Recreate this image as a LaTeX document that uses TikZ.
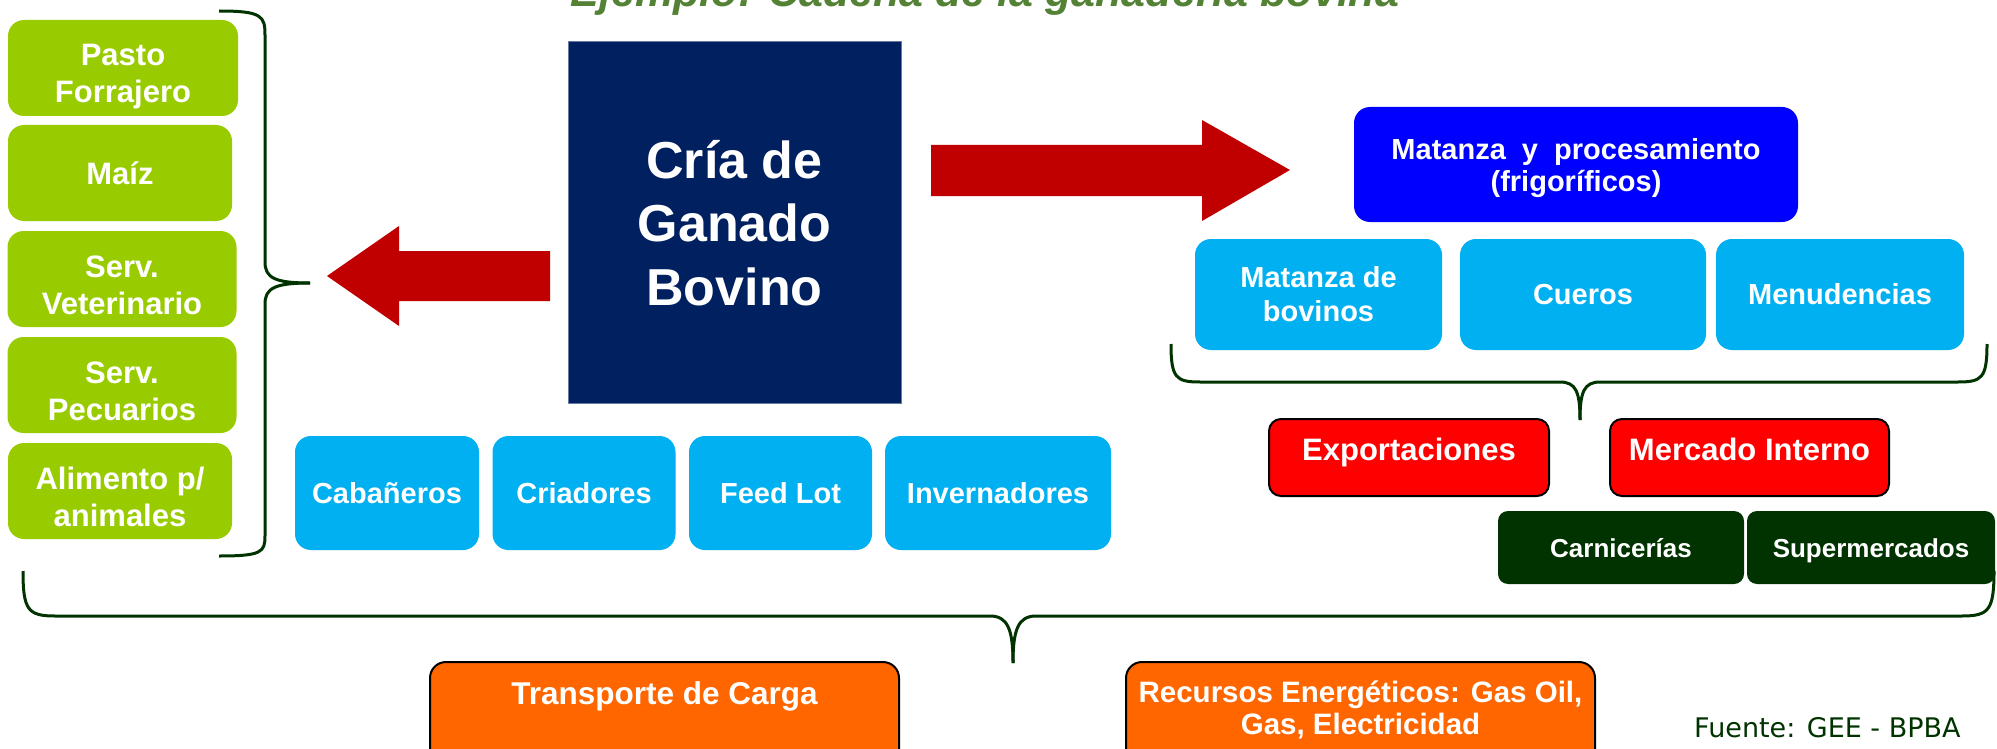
\documentclass[tikz,border=0pt]{standalone}
\usepackage{fontspec}
\setmainfont{Liberation Sans}
\newfontfamily\fuentefont{DejaVu Sans}

\definecolor{cgreen}{HTML}{99CC00}
\definecolor{cnavy}{HTML}{002060}
\definecolor{cblue}{HTML}{0000FF}
\definecolor{ccyan}{HTML}{00B0F0}
\definecolor{cred}{HTML}{FF0000}
\definecolor{cdarkred}{HTML}{C00000}
\definecolor{cdkgreen}{HTML}{003300}
\definecolor{corange}{HTML}{FF6600}
\definecolor{ctitle}{HTML}{548235}

\tikzstyle{roundbox} = [rounded corners=16, text=white, align=center, inner sep=4]
\tikzstyle{greenbox} = [roundbox, fill=cgreen, minimum height=96, font=\fontsize{31}{37}\selectfont\bfseries]
\tikzstyle{twolines} = [text height=70, text depth=0]
\tikzstyle{cyanbox} = [roundbox, fill=ccyan, minimum height=114, font=\fontsize{29}{34}\selectfont\bfseries]
\tikzstyle{navybox} = [fill=cnavy, draw=cnavy!60!white, line width=1, minimum width=333, minimum height=361, text=white, align=center, text depth=0, font=\fontsize{52}{63.5}\selectfont\bfseries]
\tikzstyle{redbox} = [roundbox, rounded corners=12, fill=cred, draw=black, line width=2, minimum height=77, text height=22, text depth=17, font=\fontsize{31}{36}\selectfont\bfseries]
\tikzstyle{shopbox} = [roundbox, rounded corners=10, fill=cdkgreen, minimum height=73, text height=19, text depth=0, font=\fontsize{26}{30}\selectfont\bfseries]
\tikzstyle{orangebox} = [roundbox, anchor=north, fill=corange, draw=black, line width=2, text height=30, text depth=100, inner ysep=10, font=\fontsize{29.5}{32}\selectfont\bfseries]
\tikzstyle{curly} = [draw=cdkgreen, line width=3]
\tikzstyle{bigarrow} = [fill=cdarkred]

\begin{document}
\begin{tikzpicture}[x=1pt,y=-1pt]
    \useasboundingbox (0,0) rectangle (1997,749);
    \clip (0,0) rectangle (1997,749);

        %title, cut at the top
        \node at (985,7) [anchor=base, text=ctitle, font=\fontsize{43}{50}\selectfont\bfseries\itshape] (title) {Ejemplo: Cadena de la ganadería bovina};

        %inputs
        \node at (123,68) [greenbox, twolines, minimum width=230] (pasto) {Pasto\\Forrajero};
        \node at (120,173) [greenbox, minimum width=224] (maiz) {Maíz};
        \node at (122,279) [greenbox, twolines, minimum width=229] (vet) {Serv.\\Veterinario};
        \node at (122,385) [greenbox, twolines, minimum width=229] (pec) {Serv.\\Pecuarios};
        \node at (120,491) [greenbox, twolines, minimum width=224] (alim) {Alimento p/\\animales};

        \draw [curly] (219,11) .. controls (262,11) and (265,16) .. (265,35) -- (265,262) .. controls (265,278) and (275,283) .. (310,283);
        \draw [curly] (310,283) .. controls (275,283) and (265,288) .. (265,304) -- (265,536) .. controls (265,552) and (262,556) .. (219,556);

        %arrows
        \fill [bigarrow] (550,251) -- (399,251) -- (399,226) -- (327,276) -- (399,326) -- (399,301) -- (550,301) -- cycle;
        \fill [bigarrow] (931,145) -- (1202,145) -- (1202,120) -- (1290,170) -- (1202,221) -- (1202,196) -- (931,196) -- cycle;

        %cattle raising
        \node at (734.5,222.5) [navybox] (cria) {Cría de\\Ganado\\Bovino};

        \node at (387,493) [cyanbox, minimum width=184] (caba) {Cabañeros};
        \node at (584,493) [cyanbox, minimum width=183] (criad) {Criadores};
        \node at (780.5,493) [cyanbox, minimum width=183] (feed) {Feed Lot};
        \node at (998,493) [cyanbox, minimum width=226] (inver) {Invernadores};

        %processing
        \node at (1576,164.5) [roundbox, fill=cblue, minimum width=444, minimum height=115, text depth=0, font=\fontsize{29}{32}\selectfont\bfseries] (frigo) {Matanza\ \ y\ \ procesamiento\\(frigoríficos)};
        \node at (1318.5,294.5) [cyanbox, minimum width=247, minimum height=111] (matanza) {Matanza de\\bovinos};
        \node at (1583,294.5) [cyanbox, minimum width=246, minimum height=111] (cueros) {Cueros};
        \node at (1840,294.5) [cyanbox, minimum width=248, minimum height=111] (menud) {Menudencias};

        \draw [curly] (1171,344) .. controls (1171,378) and (1176,382) .. (1200,382) -- (1560,382) .. controls (1576,382) and (1580,392) .. (1580,420);
        \draw [curly] (1580,420) .. controls (1580,392) and (1584,382) .. (1600,382) -- (1958,382) .. controls (1982,382) and (1987,378) .. (1987,344);

        %markets
        \node at (1409,457.5) [redbox, minimum width=280] (expo) {Exportaciones};
        \node at (1749.5,457.5) [redbox, minimum width=279] (merc) {Mercado Interno};
        \node at (1621,547.5) [shopbox, minimum width=246] (carn) {Carnicerías};
        \node at (1871,547.5) [shopbox, minimum width=248] (super) {Supermercados};

        %whole chain
        \draw [curly] (23,571) .. controls (23,610) and (28,616) .. (55,616) -- (990,616) .. controls (1008,616) and (1013,630) .. (1013,663);
        \draw [curly] (1013,663) .. controls (1013,630) and (1018,616) .. (1036,616) -- (1962,616) .. controls (1989,616) and (1994,610) .. (1994,571);

        \node at (664.5,661) [orangebox, minimum width=469, inner ysep=12, font=\fontsize{31.5}{34}\selectfont\bfseries] (trans) {Transporte de Carga};
        \node at (1360.5,661) [orangebox, minimum width=469, text height=62] (recur) {Recursos Energéticos: Gas Oil,\\Gas, Electricidad};

        \node at (1694,737) [anchor=base west, inner sep=0, text=cdkgreen, font=\fuentefont\fontsize{27}{30}\selectfont] (fuente) {Fuente: GEE - BPBA};

\end{tikzpicture}
\end{document}
